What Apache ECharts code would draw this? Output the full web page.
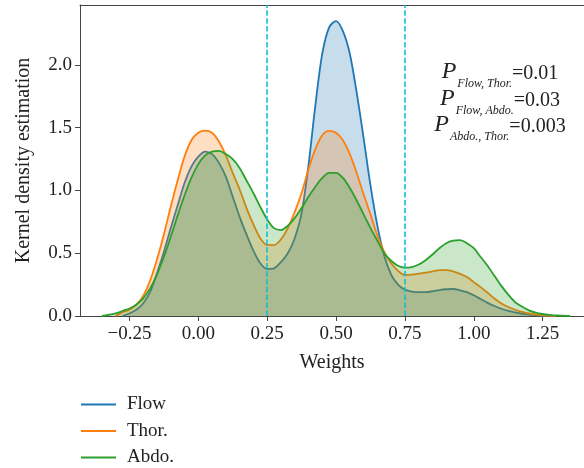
<!DOCTYPE html>
<html>
<head>
<meta charset="utf-8">
<script src="https://cdn.jsdelivr.net/npm/echarts@6/dist/echarts.min.js"></script>
<style>html,body{margin:0;padding:0;background:#fff;}#c{width:584px;height:468px;}</style>
</head>
<body>
<div id="c"></div>
<script>
// Data
const weights = [-0.35,-0.325,-0.3,-0.275,-0.25,-0.225,-0.2,-0.175,-0.15,-0.125,-0.1,-0.075,-0.05,-0.025,0,0.025,0.05,0.075,0.1,0.125,0.15,0.175,0.2,0.225,0.25,0.275,0.3,0.325,0.35,0.375,0.4,0.425,0.45,0.475,0.5,0.525,0.55,0.575,0.6,0.625,0.65,0.675,0.7,0.725,0.75,0.775,0.8,0.825,0.85,0.875,0.9,0.925,0.95,0.975,1.0,1.025,1.05,1.075,1.1,1.125,1.15,1.175,1.2,1.225,1.25,1.275,1.3,1.325,1.35];
const flow = [null,null,null,0.0,0.02,0.05,0.10,0.19,0.34,0.51,0.70,0.88,1.06,1.19,1.27,1.31,1.29,1.22,1.11,0.95,0.79,0.65,0.52,0.42,0.375,0.38,0.43,0.50,0.62,0.82,1.20,1.68,2.09,2.30,2.35,2.27,2.09,1.78,1.42,1.04,0.72,0.48,0.33,0.25,0.21,0.195,0.19,0.19,0.197,0.207,0.213,0.215,0.205,0.19,0.165,0.135,0.105,0.08,0.058,0.04,0.028,0.018,0.012,0.007,0.003,0.0,null,null,null];
const thor = [null,null,0.0,0.03,0.05,0.09,0.16,0.28,0.45,0.65,0.87,1.08,1.27,1.40,1.46,1.477,1.46,1.39,1.28,1.14,1.01,0.86,0.73,0.62,0.566,0.565,0.61,0.70,0.83,0.98,1.17,1.33,1.44,1.475,1.46,1.40,1.29,1.14,0.97,0.81,0.64,0.51,0.42,0.36,0.327,0.33,0.337,0.345,0.355,0.365,0.365,0.355,0.335,0.31,0.27,0.23,0.185,0.14,0.10,0.072,0.05,0.032,0.02,0.012,0.006,0.003,0.0,null,null];
const abdo = [0.0,0.01,0.02,0.04,0.06,0.09,0.14,0.22,0.33,0.47,0.63,0.80,0.96,1.10,1.21,1.28,1.31,1.315,1.29,1.25,1.18,1.08,0.98,0.87,0.77,0.70,0.685,0.72,0.78,0.86,0.95,1.03,1.10,1.14,1.14,1.10,1.02,0.92,0.81,0.70,0.60,0.50,0.44,0.40,0.385,0.39,0.41,0.445,0.49,0.54,0.58,0.60,0.605,0.58,0.54,0.47,0.40,0.32,0.24,0.17,0.11,0.075,0.045,0.027,0.016,0.009,0.004,0.002,0.0];
const seriesNames = ['Flow','Thor.','Abdo.'];
const thresholds = [0.25, 0.75];
const xTicks = [-0.25,0,0.25,0.5,0.75,1.0,1.25];
const yTicks = [0,0.5,1.0,1.5,2.0];
const pLines = [
  {sub:'Flow, Thor.', val:'=0.01'},
  {sub:'Flow, Abdo.', val:'=0.03'},
  {sub:'Abdo., Thor.', val:'=0.003'}
];

const FONT = '"Liberation Serif", "DejaVu Serif", serif';
const colors = ['#1f77b4','#ff7f0e','#2ca02c'];
const ys = [flow, thor, abdo];
const X_MIN = -0.4293, X_MAX = 1.40, Y_MAX = 2.478;

const chart = echarts.init(document.getElementById('c'), null, {renderer:'canvas'});

const series = seriesNames.map((n,k)=>({
  name:n, type:'line', smooth:0.3, symbol:'none', showSymbol:false,
  data: weights.map((w,i)=>[w, ys[k][i]]),
  lineStyle:{color:colors[k], width:1.8},
  itemStyle:{color:colors[k]},
  areaStyle:{color:colors[k], opacity:0.25},
  z: 2+k
}));
series[2].markLine = {
  symbol:'none', silent:true, label:{show:false}, z:10,
  lineStyle:{color:'#17becf', type:[5.5,2.4], width:1.6},
  data: thresholds.map(v=>({xAxis:v}))
};

const fmtX = v => (v<0?'\u2212':'') + Math.abs(v).toFixed(2);

const legends = seriesNames.map((n,i)=>({
  orient:'vertical', left:81, top:395+26.5*i, padding:0,
  icon:'rect', itemWidth:35, itemHeight:2,
  textStyle:{fontFamily:FONT, fontSize:19, color:'#222', padding:[0,0,0,6]},
  data:[n]
}));

chart.setOption({
  animation:false,
  backgroundColor:'#fff',
  textStyle:{fontFamily:FONT},
  grid:{left:80, top:5, right:0, bottom:152, show:false},
  xAxis:[{
    type:'value', min:X_MIN, max:X_MAX,
    name:'Weights', nameLocation:'middle', nameGap:37,
    nameTextStyle:{fontFamily:FONT, fontSize:20, color:'#222'},
    axisLine:{onZero:false, lineStyle:{color:'#444', width:1}},
    axisTick:{show:true, length:5, lineStyle:{color:'#444'}, customValues:xTicks},
    axisLabel:{fontFamily:FONT, fontSize:19, color:'#222', margin:9, customValues:xTicks, formatter:fmtX},
    splitLine:{show:false}
  },{
    type:'value', min:X_MIN, max:X_MAX, position:'top',
    axisLine:{show:true, onZero:false, lineStyle:{color:'#444', width:1}},
    axisTick:{show:false}, axisLabel:{show:false}, splitLine:{show:false}
  }],
  yAxis:{
    type:'value', min:0, max:Y_MAX,
    name:'Kernel density estimation', nameLocation:'middle', nameGap:46,
    nameTextStyle:{fontFamily:FONT, fontSize:20, color:'#222'},
    axisLine:{show:true, onZero:false, lineStyle:{color:'#444', width:1}},
    axisTick:{show:true, length:5, lineStyle:{color:'#444'}, customValues:yTicks},
    axisLabel:{fontFamily:FONT, fontSize:19, color:'#222', margin:8, customValues:yTicks, formatter:v=>v.toFixed(1)},
    splitLine:{show:false}
  },
  legend: legends,
  graphic: pLines.map((p,i)=>({
    type:'text', x:500, y:72+26.5*i, z:20,
    style:{
      text:'{p|P}{s|'+p.sub+'}{e|'+p.val+'}',
      align:'center', verticalAlign:'middle',
      fill:'#222',
      rich:{
        p:{fontFamily:FONT, fontStyle:'italic', fontSize:24, verticalAlign:'top', lineHeight:24},
        s:{fontFamily:FONT, fontStyle:'italic', fontSize:12, verticalAlign:'top', lineHeight:12, padding:[18,0,0,1]},
        e:{fontFamily:FONT, fontSize:20, verticalAlign:'top', lineHeight:20, padding:[4,0,0,0]}
      }
    }
  })),
  series: series
});
</script>
</body>
</html>
